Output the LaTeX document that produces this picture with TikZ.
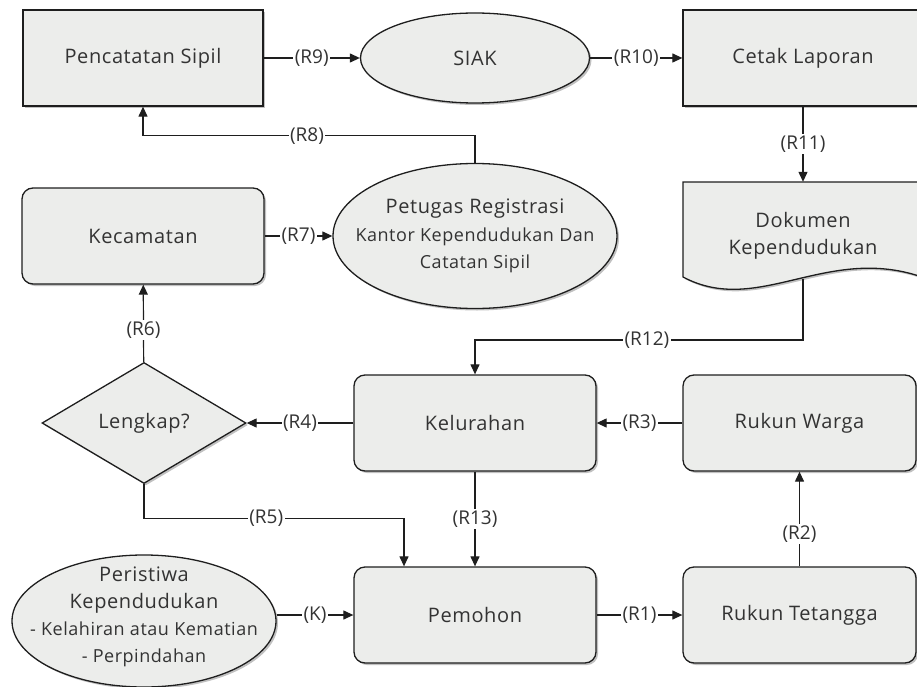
\documentclass[tikz,border=0pt]{standalone}
\usepackage{fontspec}
\setmainfont{Open Sans}[LetterSpace=3]
\newfontfamily\lblfont{Open Sans}
\usepackage{xcolor}
\usetikzlibrary{shapes.geometric, arrows.meta, shadows}
\definecolor{boxfill}{HTML}{ECEDEB}
\definecolor{boxline}{HTML}{1E1E1E}
\definecolor{textgray}{HTML}{333333}

\begin{document}
\begin{tikzpicture}[
        x=1pt, y=-1pt,
        font=\fontsize{20}{27}\selectfont,
        boxshadow/.style={drop shadow={shadow xshift=2pt, shadow yshift=-2pt, fill=black!70, opacity=0.35}},
        procbox/.style={rectangle, draw=boxline, line width=1.3pt, fill=boxfill, boxshadow, minimum width=240pt, minimum height=96pt, text=textgray, inner sep=0pt},
        roundbox/.style={procbox, rounded corners=11pt, minimum width=233pt},
        oval/.style={ellipse, draw=boxline, line width=1.3pt, fill=boxfill, boxshadow, text=textgray, inner sep=0pt},
        decision/.style={diamond, draw=boxline, line width=1.3pt, fill=boxfill, boxshadow, minimum width=204pt, minimum height=121pt, text=textgray, inner sep=0pt},
        doctext/.style={align=center, text=textgray},
        arrow/.style={-{Triangle[length=10pt, width=9pt]}, line width=1.2pt, draw=boxline},
        rlabel/.style={fill=white, inner sep=1.5pt, font=\lblfont\fontsize{19}{22}\selectfont, text=textgray}
    ]
        \useasboundingbox (0,0) rectangle (917,687);

        % top row
        \node[procbox] (pencatatan) at (143,58) {Pencatatan Sipil};
        \node[oval, minimum width=229pt, minimum height=90pt] (siak) at (475,58) {SIAK};
        \node[procbox] (cetak) at (803,58) {Cetak Laporan};

        % second row
        \node[roundbox, minimum width=242pt] (kecamatan) at (143,236) {Kecamatan};
        \node[oval, minimum width=284pt, minimum height=145pt] (petugas) at (475,236) {};
        \node[doctext, font=\fontsize{18}{27.5}\selectfont] (petugasteks) at (petugas) {{\fontsize{20}{27.5}\selectfont Petugas Registrasi}\\Kantor Kependudukan Dan\\Catatan Sipil};

        % document shape
        \path[draw=boxline, line width=1.3pt, fill=boxfill, boxshadow] (683,182) -- (930,182) -- (930,280)
            .. controls (830,240) and (760,318) .. (683,277) -- cycle;
        \node[doctext, minimum width=240pt, minimum height=108pt] (dokumen) at (803,236) {Dokumen\\Kependudukan};
        \coordinate (dokbawah) at (803,279);

        % third row
        \node[decision] (lengkap) at (144,423) {Lengkap?};
        \node[roundbox, minimum width=242pt] (kelurahan) at (475,423) {Kelurahan};
        \node[roundbox] (rw) at (799.5,423) {Rukun Warga};

        % bottom row
        \node[oval, minimum width=264pt, minimum height=132pt] (peristiwa) at (144,621) {};
        \node[doctext] (peristiwateks) at (144,617) {Peristiwa\\Kependudukan\\{\fontsize{18}{27}\selectfont - Kelahiran atau Kematian}\\{\fontsize{18}{27}\selectfont - Perpindahan}};
        \node[roundbox, minimum width=242pt] (pemohon) at (475,615) {Pemohon};
        \node[roundbox] (rt) at (799.5,615) {Rukun Tetangga};

        % connectors
        \draw[arrow] (peristiwa.east |- pemohon.west) -- node[rlabel] {(K)} (pemohon.west);
        \draw[arrow] (pemohon) -- node[rlabel] {(R1)} (rt);
        \draw[arrow] (rt) -- node[rlabel, pos=0.34] {(R2)} (rw);
        \draw[arrow] (rw) -- node[rlabel] {(R3)} (kelurahan);
        \draw[arrow] (kelurahan) -- node[rlabel] {(R4)} (lengkap);
        \draw[arrow] (lengkap.south) -- ++(0,34) -| node[rlabel, pos=0.235] {(R5)} ([xshift=-71pt]pemohon.north);
        \draw[arrow] (lengkap) -- node[rlabel, pos=0.41] {(R6)} (kecamatan);
        \draw[arrow] (kecamatan) -- node[rlabel] {(R7)} (petugas);
        \draw[arrow] (petugas.north) -- ++(0,-27) -| node[rlabel, pos=0.253] {(R8)} (pencatatan.south);
        \draw[arrow] (pencatatan) -- node[rlabel] {(R9)} (siak);
        \draw[arrow] (siak) -- node[rlabel] {(R10)} (cetak);
        \draw[arrow] (cetak) -- node[rlabel] {(R11)} (dokumen);
        \draw[arrow] (dokbawah) -- ++(0,61) -| node[rlabel, pos=0.238] {(R12)} (kelurahan.north);
        \draw[arrow] (kelurahan) -- node[rlabel] {(R13)} (pemohon);
    \end{tikzpicture}
\end{document}
